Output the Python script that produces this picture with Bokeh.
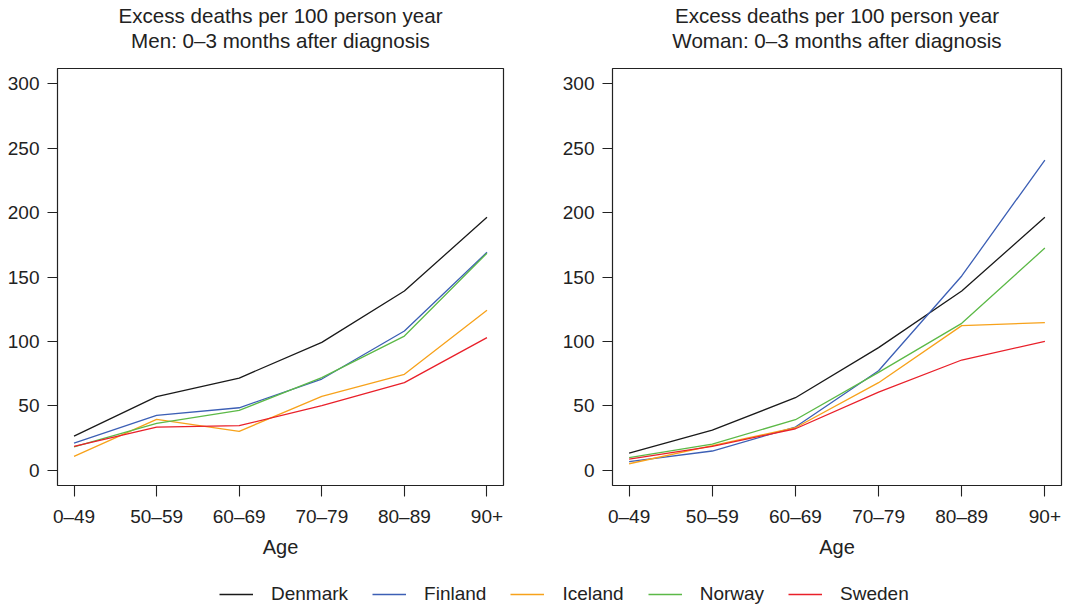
from bokeh.plotting import figure
from bokeh.layouts import column, row
from bokeh.models import Range1d, FixedTicker, Title, Legend, LegendItem
from bokeh.embed import file_html
from bokeh.resources import INLINE

# ---------------- data ----------------
age_groups = ["0\u201349", "50\u201359", "60\u201369", "70\u201379", "80\u201389", "90+"]
countries = ["Denmark", "Finland", "Iceland", "Norway", "Sweden"]
country_colors = ["#1a1a1a", "#3c5fb5", "#f7a21b", "#5cb947", "#e9202a"]

men_denmark = [26.4, 57.0, 71.5, 99.2, 139.1, 196.4]
men_finland = [21.0, 42.5, 48.4, 70.7, 108.0, 169.2]
men_iceland = [10.6, 39.4, 30.1, 57.3, 74.4, 124.1]
men_norway = [18.1, 36.3, 46.4, 71.8, 104.1, 168.5]
men_sweden = [18.4, 33.4, 34.5, 50.0, 67.9, 102.9]

women_denmark = [13.2, 31.1, 56.2, 95.1, 139.1, 196.4]
women_finland = [6.5, 14.8, 33.4, 77.2, 150.8, 240.9]
women_iceland = [4.9, 18.9, 32.9, 67.9, 112.2, 114.5]
women_norway = [9.6, 20.2, 39.1, 75.9, 114.0, 172.5]
women_sweden = [8.5, 18.4, 32.1, 60.6, 85.5, 100.0]

y_ticks = [0, 50, 100, 150, 200, 250, 300]

men_series = [men_denmark, men_finland, men_iceland, men_norway, men_sweden]
women_series = [women_denmark, women_finland, women_iceland, women_norway, women_sweden]

FONT = "Liberation Sans"
TXT = "#222222"


def make_panel(title1, title2, series, width, border_left, border_right):
    p = figure(width=width, height=560,
               x_range=Range1d(-0.2, 5.2), y_range=Range1d(-12, 312),
               output_backend="svg", toolbar_location=None,
               min_border_left=border_left, min_border_right=border_right,
               min_border_top=68, min_border_bottom=75)
    # spacer between frame and the second title line
    p.add_layout(Title(text=" ", text_font=FONT, text_font_size="10px", standoff=4), "above")
    p.add_layout(Title(text=title2, align="center", vertical_align="bottom",
                       text_font=FONT, text_font_size="20.6px",
                       text_font_style="normal", text_color=TXT, standoff=0), "above")
    p.add_layout(Title(text=title1, align="center", vertical_align="bottom",
                       text_font=FONT, text_font_size="20.6px",
                       text_font_style="normal", text_color=TXT, standoff=0), "above")
    xs = list(range(len(age_groups)))
    for vals, col in zip(series, country_colors):
        p.line(xs, vals, line_color=col, line_width=1.3)
    p.xgrid.visible = False
    p.ygrid.visible = False
    p.outline_line_color = "#222222"
    p.outline_line_width = 1.2
    p.background_fill_color = "white"
    p.border_fill_color = "white"

    p.xaxis.ticker = FixedTicker(ticks=xs)
    p.xaxis.major_label_overrides = {i: lab for i, lab in enumerate(age_groups)}
    p.yaxis.ticker = FixedTicker(ticks=y_ticks)
    for ax in (p.xaxis, p.yaxis):
        ax.axis_line_color = None
        ax.major_tick_in = 0
        ax.major_tick_line_color = "#222222"
        ax.major_tick_line_width = 1.1
        ax.minor_tick_line_color = None
        ax.major_label_text_font = FONT
        ax.major_label_text_font_size = "19px"
        ax.major_label_text_color = TXT
    p.yaxis.major_tick_out = 10
    p.yaxis.major_label_standoff = 8
    p.xaxis.major_tick_out = 11
    p.xaxis.major_label_standoff = 9
    p.xaxis.axis_label = "Age"
    p.xaxis.axis_label_text_font = FONT
    p.xaxis.axis_label_text_font_size = "20px"
    p.xaxis.axis_label_text_font_style = "normal"
    p.xaxis.axis_label_text_color = TXT
    p.xaxis.axis_label_standoff = 6
    return p


p1 = make_panel("Excess deaths per 100 person year",
                "Men: 0\u20133 months after diagnosis",
                men_series, 540, 57, 37)
p2 = make_panel("Excess deaths per 100 person year",
                "Woman: 0\u20133 months after diagnosis",
                women_series, 537, 72, 16)

# ---------------- legend strip ----------------
pleg = figure(width=1077, height=44, x_range=Range1d(0, 1), y_range=Range1d(1000, 1001),
              output_backend="svg", toolbar_location=None,
              min_border_left=0, min_border_right=0, min_border_top=0, min_border_bottom=0,
              x_axis_location=None, y_axis_location=None)
pleg.xgrid.visible = False
pleg.ygrid.visible = False
pleg.outline_line_color = None
items = []
for name, col, vals in zip(countries, country_colors, men_series):
    r = pleg.line(x=list(range(len(vals))), y=vals, line_color=col, line_width=1.3)
    items.append(LegendItem(label=name, renderers=[r]))
leg = Legend(items=items, orientation="horizontal", location=(219, -1),
             glyph_width=34, glyph_height=20, label_standoff=18, spacing=24,
             padding=0, margin=0, border_line_alpha=0, background_fill_alpha=0,
             label_text_font=FONT, label_text_font_size="19px", label_text_color=TXT)
pleg.add_layout(leg, "center")

layout = column(row(p1, p2), pleg)
open("out.html", "w").write(file_html(layout, INLINE))
